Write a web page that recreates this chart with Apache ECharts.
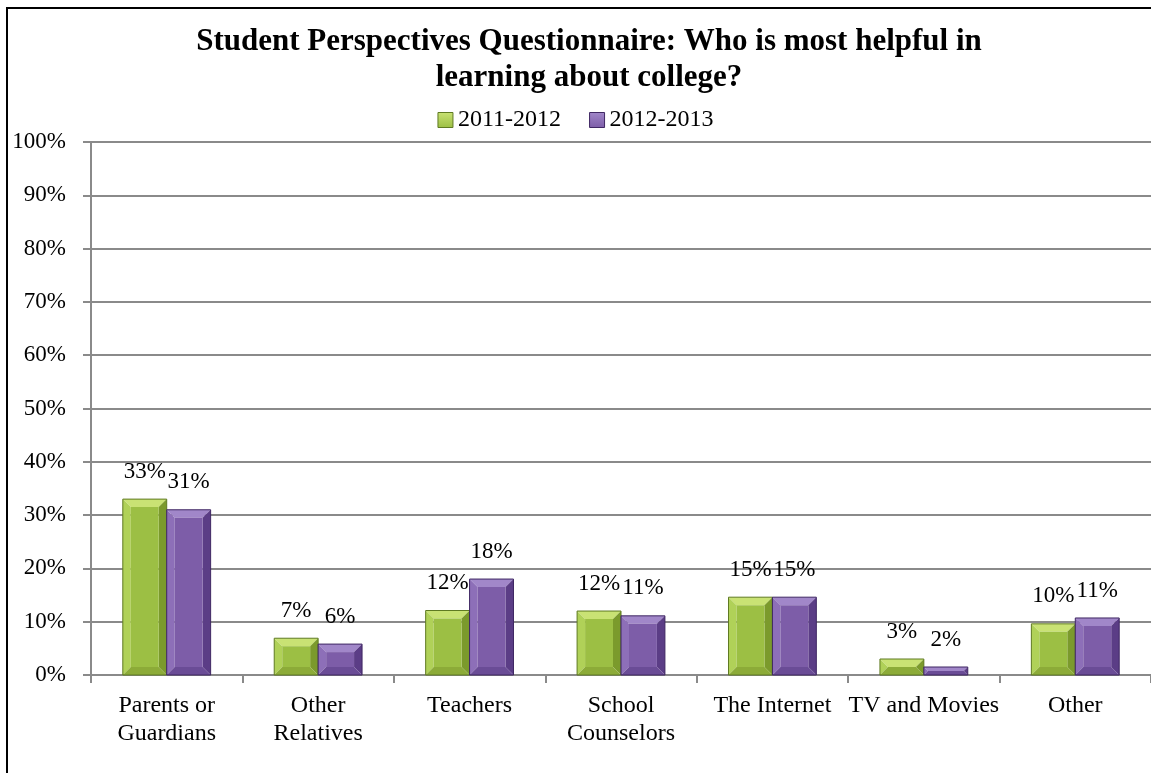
<!DOCTYPE html>
<html>
<head>
<meta charset="utf-8">
<title>Student Perspectives Questionnaire</title>
<script src="https://cdn.jsdelivr.net/npm/echarts@6/dist/echarts.min.js"></script>
<style>
  html, body { margin: 0; padding: 0; background: #fff; }
  #chart { width: 1151px; height: 773px; }
</style>
</head>
<body>
<div id="chart"></div>
<script>
// Survey answers: share of students naming each source as most helpful
const categories = ['Parents or\nGuardians', 'Other\nRelatives', 'Teachers', 'School\nCounselors', 'The Internet', 'TV and Movies', 'Other'];
const seriesNames = ['2011-2012', '2012-2013'];
const values2011 = [33.0, 6.9, 12.1, 12.0, 14.6, 3.0, 9.6];
const values2012 = [31.0, 5.8, 18.0, 11.1, 14.6, 1.5, 10.7];
const yTicks = [0, 10, 20, 30, 40, 50, 60, 70, 80, 90, 100];

const FONT = '"Liberation Serif", "Times New Roman", serif';

// Bevel palettes for the two school years
const palettes = [
  { face: '#9cbf44', top: '#c9e274', left: '#b0d158', right: '#7b9a2c', bottom: '#8cab38', edge: '#5f7a22' },
  { face: '#7d5da8', top: '#a187c9', left: '#8d6fb8', right: '#5b3d86', bottom: '#6a4c96', edge: '#3f2763' }
];

const BAR_FRAC = 0.29; // each bar's width as a share of the category band

function bevelBar(seriesIdx) {
  const pal = palettes[seriesIdx];
  return function (params, api) {
    const cat = api.value(0);
    const v = api.value(1);
    const base = api.coord([cat, 0]);
    const topPt = api.coord([cat, v]);
    const band = api.size([1, 0])[0];
    const w = band * BAR_FRAC;
    const x0 = seriesIdx === 0 ? base[0] - w : base[0];
    const x1 = x0 + w;
    const y0 = topPt[1];
    const y1 = base[1];
    const h = y1 - y0;
    const b = Math.max(0, Math.min(8, h / 2, w / 2));
    const poly = (pts, fill) => ({ type: 'polygon', shape: { points: pts }, style: { fill: fill } });
    const label = Math.round(v) + '%';
    return {
      type: 'group',
      children: [
        poly([[x0, y0], [x1, y0], [x1 - b, y0 + b], [x0 + b, y0 + b]], pal.top),
        poly([[x0, y0], [x0 + b, y0 + b], [x0 + b, y1 - b], [x0, y1]], pal.left),
        poly([[x1, y0], [x1, y1], [x1 - b, y1 - b], [x1 - b, y0 + b]], pal.right),
        poly([[x0, y1], [x0 + b, y1 - b], [x1 - b, y1 - b], [x1, y1]], pal.bottom),
        {
          type: 'rect',
          shape: { x: x0 + b, y: y0 + b, width: Math.max(0, w - 2 * b), height: Math.max(0, h - 2 * b) },
          style: { fill: pal.face }
        },
        {
          type: 'rect',
          shape: { x: x0, y: y0, width: w, height: h },
          style: { fill: 'none', stroke: pal.edge, lineWidth: 1 }
        },
        {
          type: 'text',
          style: {
            x: (x0 + x1) / 2,
            y: y0 - 16,
            text: label,
            align: 'center',
            verticalAlign: 'bottom',
            fill: '#000',
            font: '23px ' + FONT
          }
        }
      ]
    };
  };
}

function seriesData(vals) {
  return vals.map((v, i) => [i, v]);
}

const legendFill = (p) => new echarts.graphic.LinearGradient(0, 0, 0, 1, [
  { offset: 0, color: p.top },
  { offset: 1, color: p.face }
]);

const chart = echarts.init(document.getElementById('chart'), null, { renderer: 'canvas' });

chart.setOption({
  animation: false,
  backgroundColor: '#fff',
  title: {
    text: 'Student Perspectives Questionnaire: Who is most helpful in\nlearning about college?',
    left: 584,
    textAlign: 'center',
    top: 19,
    textStyle: {
      fontFamily: FONT,
      fontWeight: 'bold',
      fontSize: 31,
      lineHeight: 36,
      color: '#000'
    }
  },
  legend: {
    top: 103,
    left: 'center',
    itemWidth: 15,
    itemHeight: 15,
    itemGap: 28,
    icon: 'rect',
    textStyle: { fontFamily: FONT, fontSize: 24, color: '#000' },
    data: [
      { name: seriesNames[0], itemStyle: { color: legendFill(palettes[0]), borderColor: palettes[0].edge, borderWidth: 1 } },
      { name: seriesNames[1], itemStyle: { color: legendFill(palettes[1]), borderColor: palettes[1].edge, borderWidth: 1 } }
    ]
  },
  grid: { left: 91, right: 0, top: 142, bottom: 98, containLabel: false },
  xAxis: {
    type: 'category',
    data: categories,
    axisLine: { show: true, lineStyle: { color: '#8a8a8a', width: 2 } },
    axisTick: { show: true, alignWithLabel: false, length: 8, lineStyle: { color: '#8a8a8a', width: 2 } },
    axisLabel: {
      interval: 0,
      margin: 17,
      fontFamily: FONT,
      fontSize: 24,
      lineHeight: 28,
      color: '#000'
    },
    splitLine: { show: false }
  },
  yAxis: {
    type: 'value',
    min: yTicks[0],
    max: yTicks[yTicks.length - 1],
    interval: yTicks[1] - yTicks[0],
    axisLine: { show: true, lineStyle: { color: '#8a8a8a', width: 2 } },
    axisTick: { show: true, length: 8, lineStyle: { color: '#8a8a8a', width: 2 } },
    axisLabel: {
      margin: 25,
      formatter: '{value}%',
      fontFamily: FONT,
      fontSize: 23,
      color: '#000'
    },
    splitLine: { show: true, lineStyle: { color: '#8a8a8a', width: 2 } }
  },
  graphic: [
    {
      // outer frame; its right and bottom edges sit beyond the canvas
      type: 'rect',
      shape: { x: 7, y: 8, width: 1250, height: 900 },
      style: { fill: 'none', stroke: '#000', lineWidth: 2 },
      silent: true,
      z: 100
    }
  ],
  series: [
    {
      name: seriesNames[0],
      type: 'custom',
      itemStyle: { color: palettes[0].face },
      renderItem: bevelBar(0),
      encode: { x: 0, y: 1 },
      data: seriesData(values2011),
      z: 3
    },
    {
      name: seriesNames[1],
      type: 'custom',
      itemStyle: { color: palettes[1].face },
      renderItem: bevelBar(1),
      encode: { x: 0, y: 1 },
      data: seriesData(values2012),
      z: 3
    }
  ]
});
</script>
</body>
</html>
